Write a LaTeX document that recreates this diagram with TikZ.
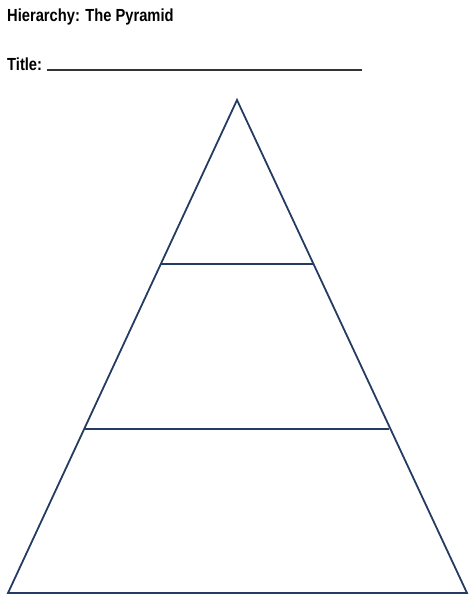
\documentclass[tikz,border=0pt]{standalone}
\usepackage{fontspec}
\setmainfont{Liberation Sans}[FakeStretch=0.84]
\usepackage{tikz}
\definecolor{pyrblue}{RGB}{36,60,98}

\begin{document}
\begin{tikzpicture}[x=1pt,y=-1pt]
            \useasboundingbox (0,0) rectangle (474,608);
            \tikzset{label/.style={anchor=base west,inner sep=0pt,font=\fontsize{17.5}{20}\selectfont\bfseries},
                     pyr/.style={pyrblue,line width=1.8pt,line join=miter}}
            \node[label] (heading) at (7,21) {Hierarchy: The Pyramid};
            \node[label] (titlelbl) at (7,70) {Title:};
            \coordinate (linestart) at (47,70);
            \coordinate (lineend) at (362,70);
            \draw[black!80,line width=1.3pt] (linestart) -- (lineend);
            % pyramid
            \coordinate (apex) at (237,100);
            \coordinate (bl) at (8,593);
            \coordinate (br) at (467,593);
            \draw[pyr] (apex) -- (bl) -- (br) -- cycle;
            \draw[pyr] (161,264) -- (313,264);
            \draw[pyr] (85,429) -- (389,429);
        \end{tikzpicture}
\end{document}
